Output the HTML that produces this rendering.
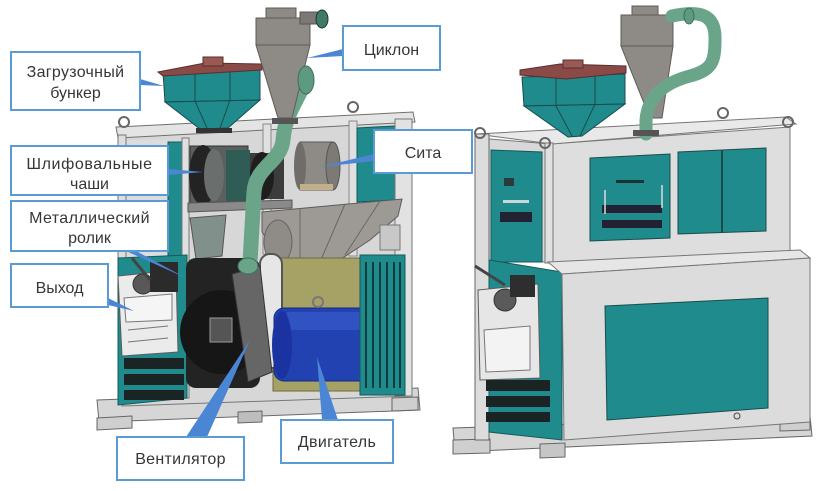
<!DOCTYPE html>
<html><head><meta charset="utf-8"><style>
html,body{margin:0;padding:0;background:#fff;}
svg{display:block;}
text{font-family:"Liberation Sans",sans-serif;font-size:16px;fill:#363636;}
</style></head><body>
<svg width="820" height="491" viewBox="0 0 820 491" xmlns="http://www.w3.org/2000/svg">
<rect width="820" height="491" fill="#fff"/>

<!-- ================= LEFT MACHINE ================= -->
<!-- base -->
<polygon points="97,400 418,388 420,410 99,422" fill="#d6d6d6" stroke="#6a6a6a"/>
<polygon points="97,418 132,416 132,428 97,430" fill="#cfcfcf" stroke="#666"/>
<polygon points="238,412 262,411 262,422 238,423" fill="#bdbdbd" stroke="#666"/>
<polygon points="392,398 418,397 418,410 392,411" fill="#cfcfcf" stroke="#666"/>
<!-- back interior -->
<polygon points="122,134 412,120 412,396 122,406" fill="#d7d7d7" stroke="#777"/>
<rect x="126" y="140" width="42" height="120" fill="#dcdcdc"/>
<!-- top frame -->
<polygon points="116,127 413,112 415,122 118,138" fill="#e4e4e4" stroke="#707070"/>
<circle cx="124" cy="122" r="5" fill="none" stroke="#666" stroke-width="2"/>
<circle cx="353" cy="107" r="5" fill="none" stroke="#666" stroke-width="2"/>
<!-- left posts -->
<rect x="118" y="135" width="8" height="268" fill="#dedede" stroke="#777"/>
<rect x="263" y="124" width="8" height="130" fill="#e0e0e0" stroke="#888"/>
<rect x="349" y="121" width="8" height="135" fill="#e0e0e0" stroke="#888"/>
<!-- teal strip left -->
<rect x="168" y="142" width="14" height="250" fill="#1f8b8d" stroke="#15595a"/>
<rect x="182" y="138" width="7" height="260" fill="#e0e0e0" stroke="#777"/>
<!-- upper right teal panel -->
<polygon points="357,128 395,126 395,200 357,202" fill="#1f8b8d" stroke="#15595a"/>
<rect x="395" y="119" width="17" height="277" fill="#e2e2e2" stroke="#777"/>
<!-- grinding assembly -->
<rect x="190" y="146" width="58" height="58" fill="#5a605e" stroke="#333"/>
<ellipse cx="203" cy="175" rx="14" ry="30" fill="#232323"/>
<ellipse cx="214" cy="175" rx="10" ry="26" fill="#6a6e6c"/>
<rect x="226" y="150" width="24" height="52" fill="#2f5c55"/>
<rect x="250" y="153" width="34" height="46" fill="#3c3c3c"/>
<ellipse cx="262" cy="176" rx="12" ry="24" fill="#1e1e1e"/>
<!-- sieve -->
<rect x="300" y="142" width="33" height="48" fill="#8e8b87" stroke="#555"/>
<ellipse cx="300" cy="166" rx="6" ry="24" fill="#6f6c69"/>
<ellipse cx="333" cy="166" rx="7" ry="24" fill="#7d7a76" stroke="#555"/>
<rect x="300" y="184" width="33" height="6" fill="#c2b08a"/>
<!-- shelf -->
<polygon points="188,203 292,200 292,208 188,212" fill="#8a8a8a" stroke="#555"/>
<!-- funnels -->
<polygon points="262,212 402,199 398,216 370,240 335,263 300,266 276,252 262,232" fill="#9d9995" stroke="#5c5c5c"/>
<ellipse cx="278" cy="242" rx="14" ry="22" fill="#8f8b87" stroke="#666"/>
<line x1="300" y1="208" x2="300" y2="262" stroke="#6a6663"/>
<line x1="345" y1="204" x2="320" y2="262" stroke="#6a6663"/>
<line x1="380" y1="201" x2="345" y2="255" stroke="#6a6663"/>
<rect x="380" y="225" width="20" height="25" fill="#c8c8c8" stroke="#777"/>
<!-- small left funnel -->
<polygon points="190,218 226,215 222,256 196,259" fill="#82908c" stroke="#555"/>
<!-- lower left teal -->
<polygon points="118,258 187,255 187,398 118,405" fill="#1f8b8d" stroke="#15595a"/>
<g fill="#1b2424">
<rect x="124" y="358" width="60" height="11"/>
<rect x="124" y="374" width="60" height="11"/>
<rect x="124" y="390" width="60" height="10"/>
</g>
<!-- outlet box -->
<polygon points="118,276 176,270 178,352 122,356" fill="#ebebeb" stroke="#5d5d5d"/>
<polygon points="124,298 172,294 172,320 126,322" fill="#f5f5f5" stroke="#777"/>
<line x1="128" y1="330" x2="168" y2="326" stroke="#777"/>
<line x1="128" y1="342" x2="168" y2="338" stroke="#777"/>
<circle cx="143" cy="284" r="10" fill="#585858" stroke="#333"/>
<rect x="150" y="262" width="28" height="30" fill="#2b2b2b"/>
<line x1="132" y1="258" x2="150" y2="280" stroke="#444" stroke-width="3"/>
<!-- black fan -->
<rect x="186" y="258" width="74" height="130" rx="10" fill="#232323"/>
<circle cx="222" cy="332" r="42" fill="#161616"/>
<rect x="210" y="318" width="22" height="24" fill="#555" stroke="#999"/>
<!-- olive board -->
<rect x="273" y="258" width="90" height="133" fill="#a6a165" stroke="#6d6a40"/>
<!-- belts -->
<rect x="260" y="254" width="22" height="114" rx="10" fill="#e6e6e6" stroke="#555" stroke-width="2"/>
<!-- belt housing -->
<polygon points="232,274 260,266 272,372 248,382" fill="#666" stroke="#333"/>
<!-- green pipe -->
<path d="M305,80 C300,98 285,112 283,140 C281,162 256,166 254,192 L250,262" fill="none" stroke="#6aa58a" stroke-width="15" stroke-linecap="round"/>
<ellipse cx="248" cy="266" rx="10" ry="8" fill="#6aa58a" stroke="#3f6e5b"/>
<!-- blue motor -->
<rect x="274" y="308" width="103" height="73" rx="10" fill="#2242b2" stroke="#142a80"/>
<rect x="287" y="312" width="86" height="18" fill="#3152c2"/>
<ellipse cx="282" cy="345" rx="10" ry="34" fill="#1a33a0"/>
<circle cx="318" cy="302" r="5" fill="none" stroke="#777" stroke-width="2"/>
<!-- right lower grille -->
<rect x="360" y="255" width="45" height="140" fill="#1f8b8d" stroke="#15595a"/>
<g stroke="#0f3d3e" stroke-width="2">
<line x1="366" y1="262" x2="366" y2="388"/><line x1="373" y1="262" x2="373" y2="388"/>
<line x1="380" y1="262" x2="380" y2="388"/><line x1="387" y1="262" x2="387" y2="388"/>
<line x1="394" y1="262" x2="394" y2="388"/><line x1="400" y1="262" x2="400" y2="388"/>
</g>
<!-- hopper left -->
<polygon points="163,72 260,66 260,100 165,102" fill="#1f8b8d" stroke="#1b4b4b"/>
<line x1="195" y1="71" x2="195" y2="101" stroke="#1b4b4b"/>
<line x1="230" y1="68" x2="230" y2="100" stroke="#1b4b4b"/>
<polygon points="165,102 260,100 228,128 200,129" fill="#1f8b8d" stroke="#1b4b4b"/>
<line x1="195" y1="101" x2="207" y2="128" stroke="#1b4b4b"/>
<line x1="230" y1="100" x2="220" y2="128" stroke="#1b4b4b"/>
<polygon points="158,72 205,63 262,64 262,70 163,76" fill="#8a4b48" stroke="#5a2e2c"/>
<rect x="203" y="57" width="20" height="9" fill="#9a5955" stroke="#5a2e2c"/>
<rect x="196" y="128" width="36" height="5" fill="#333"/>
<!-- cyclone left -->
<polygon points="256,18 310,18 310,45 256,45" fill="#8e8a86" stroke="#5e5b58"/>
<polygon points="256,45 310,45 292,118 278,118" fill="#8e8a86" stroke="#5e5b58"/>
<rect x="266" y="8" width="30" height="10" fill="#8e8a86" stroke="#5e5b58"/>
<rect x="300" y="12" width="18" height="12" fill="#7b7875" stroke="#555"/>
<ellipse cx="322" cy="19" rx="6" ry="9" fill="#3f7a62" stroke="#234"/>
<rect x="272" y="118" width="26" height="6" fill="#555"/>
<ellipse cx="306" cy="80" rx="8" ry="14" fill="#5e9a80" stroke="#3f6e5b"/>

<!-- ================= RIGHT MACHINE ================= -->
<!-- base & feet -->
<polygon points="453,428 810,416 812,436 455,452" fill="#d6d6d6" stroke="#666"/>
<polygon points="453,440 490,439 490,453 453,454" fill="#cfcfcf" stroke="#666"/>
<polygon points="540,444 565,443 565,457 540,458" fill="#c6c6c6" stroke="#666"/>
<polygon points="780,416 810,415 810,430 780,431" fill="#cfcfcf" stroke="#666"/>
<!-- upper body left side -->
<polygon points="478,138 550,144 550,262 478,262" fill="#d8d8d8" stroke="#777"/>
<polygon points="491,150 542,152 542,262 491,262" fill="#1f8b8d" stroke="#15595a"/>
<rect x="504" y="178" width="10" height="8" fill="#2b3b3b"/>
<rect x="503" y="200" width="26" height="3" fill="#c8d8d8"/>
<rect x="500" y="212" width="32" height="10" fill="#223"/>
<!-- upper body front -->
<polygon points="550,144 790,127 790,256 550,264" fill="#dedede" stroke="#777"/>
<polygon points="476,134 786,117 796,124 552,144" fill="#e9e9e9" stroke="#777"/>
<polygon points="590,158 670,154 670,238 590,241" fill="#1f8b8d" stroke="#1a4c4c"/>
<rect x="602" y="205" width="60" height="8" fill="#223"/>
<rect x="602" y="220" width="60" height="8" fill="#223"/>
<line x1="605" y1="190" x2="605" y2="214" stroke="#ddd" stroke-width="1.5"/>
<line x1="662" y1="185" x2="662" y2="208" stroke="#ddd" stroke-width="1.5"/>
<rect x="616" y="180" width="28" height="3" fill="#1a3333"/>
<polygon points="678,152 766,148 766,231 678,234" fill="#1f8b8d" stroke="#1a4c4c"/>
<line x1="722" y1="150" x2="722" y2="232" stroke="#1a4c4c" stroke-width="2"/>
<!-- posts -->
<rect x="475" y="134" width="14" height="306" fill="#dcdcdc" stroke="#666"/>
<rect x="545" y="143" width="8" height="120" fill="#e0e0e0" stroke="#777"/>
<circle cx="480" cy="133" r="5" fill="none" stroke="#666" stroke-width="2"/>
<circle cx="545" cy="143" r="5" fill="none" stroke="#666" stroke-width="2"/>
<circle cx="723" cy="113" r="5" fill="none" stroke="#666" stroke-width="2"/>
<circle cx="788" cy="122" r="5" fill="none" stroke="#666" stroke-width="2"/>
<!-- lower body -->
<polygon points="489,260 562,272 562,440 489,432" fill="#1f8b8d" stroke="#15595a"/>
<polygon points="548,262 800,250 810,258 562,274" fill="#e6e6e6" stroke="#777"/>
<polygon points="562,274 810,258 810,422 564,440" fill="#dcdcdc" stroke="#777"/>
<polygon points="605,306 768,298 768,408 607,420" fill="#1f8b8d" stroke="#1a4c4c"/>
<circle cx="737" cy="416" r="3" fill="none" stroke="#444"/>
<!-- outlet right -->
<polygon points="478,290 538,284 540,378 480,380" fill="#e6e6e6" stroke="#5d5d5d"/>
<polygon points="484,330 530,326 530,370 486,372" fill="#f3f3f3" stroke="#777"/>
<circle cx="505" cy="300" r="11" fill="#5a5a5a" stroke="#333"/>
<rect x="510" y="275" width="25" height="22" fill="#2e2e2e"/>
<line x1="475" y1="266" x2="505" y2="285" stroke="#444" stroke-width="3"/>
<g fill="#1b2424">
<rect x="486" y="380" width="64" height="11"/>
<rect x="486" y="396" width="64" height="11"/>
<rect x="486" y="412" width="64" height="10"/>
</g>
<!-- hopper right -->
<polygon points="522,77 625,74 625,104 524,106" fill="#1f8b8d" stroke="#1b4b4b"/>
<line x1="556" y1="77" x2="556" y2="106" stroke="#1b4b4b"/>
<line x1="595" y1="75" x2="595" y2="104" stroke="#1b4b4b"/>
<polygon points="524,106 625,104 582,136 568,137" fill="#1f8b8d" stroke="#1b4b4b"/>
<line x1="556" y1="106" x2="572" y2="136" stroke="#1b4b4b"/>
<line x1="595" y1="104" x2="580" y2="136" stroke="#1b4b4b"/>
<polygon points="520,70 560,64 626,66 626,73 566,79 520,75" fill="#8a4b48" stroke="#5a2e2c"/>
<rect x="563" y="60" width="20" height="8" fill="#9a5955" stroke="#5a2e2c"/>
<!-- cyclone right -->
<polygon points="621,15 673,15 673,46 621,46" fill="#8e8a86" stroke="#5e5b58"/>
<polygon points="621,46 673,46 662,118 650,118" fill="#8e8a86" stroke="#5e5b58"/>
<rect x="632" y="6" width="26" height="9" fill="#8e8a86" stroke="#5e5b58"/>
<!-- green pipe right -->
<path d="M672,16 C700,10 716,14 715,40 C715,62 712,70 690,76 C664,83 648,96 646,120 L646,134" fill="none" stroke="#6aa58a" stroke-width="13" stroke-linecap="round"/>
<ellipse cx="689" cy="16" rx="5" ry="8" fill="#5e9a80" stroke="#3f6e5b"/>
<rect x="633" y="130" width="26" height="6" fill="#555"/>

<!-- ================= LEADERS ================= -->
<g fill="#4a86d4">
<polygon points="140,79 140,85 164,86"/>
<polygon points="343,49 343,56 307,58"/>
<polygon points="374,154 374,161 320,167"/>
<polygon points="168,169 168,175 203,172"/>
<polygon points="126,251 136,251 186,278"/>
<polygon points="108,298 108,305 134,311"/>
<polygon points="186,437 207,437 250,340"/>
<polygon points="322,420 338,420 317,357"/>
</g>

<!-- ================= LABELS ================= -->
<g fill="#fff" stroke="#5b9bd5" stroke-width="2">
<rect x="11" y="52" width="129" height="58"/>
<rect x="11" y="146" width="157" height="49"/>
<rect x="11" y="201" width="157" height="50"/>
<rect x="11" y="264" width="97" height="43"/>
<rect x="343" y="26" width="97" height="44"/>
<rect x="374" y="130" width="98" height="43"/>
<rect x="117" y="437" width="127" height="43"/>
<rect x="281" y="420" width="112" height="43"/>
</g>
<g text-anchor="middle">
<text x="75.5" y="77" letter-spacing="0.3">Загрузочный</text>
<text x="75.5" y="98">бункер</text>
<text x="89.5" y="169" letter-spacing="0.6">Шлифовальные</text>
<text x="89.5" y="189">чаши</text>
<text x="89.5" y="223" letter-spacing="0.4">Металлический</text>
<text x="89.5" y="243">ролик</text>
<text x="59.5" y="293">Выход</text>
<text x="391.5" y="55">Циклон</text>
<text x="423" y="158">Сита</text>
<text x="180.5" y="464" letter-spacing="0.3">Вентилятор</text>
<text x="337" y="447" letter-spacing="0.3">Двигатель</text>
</g>
</svg>
</body></html>
